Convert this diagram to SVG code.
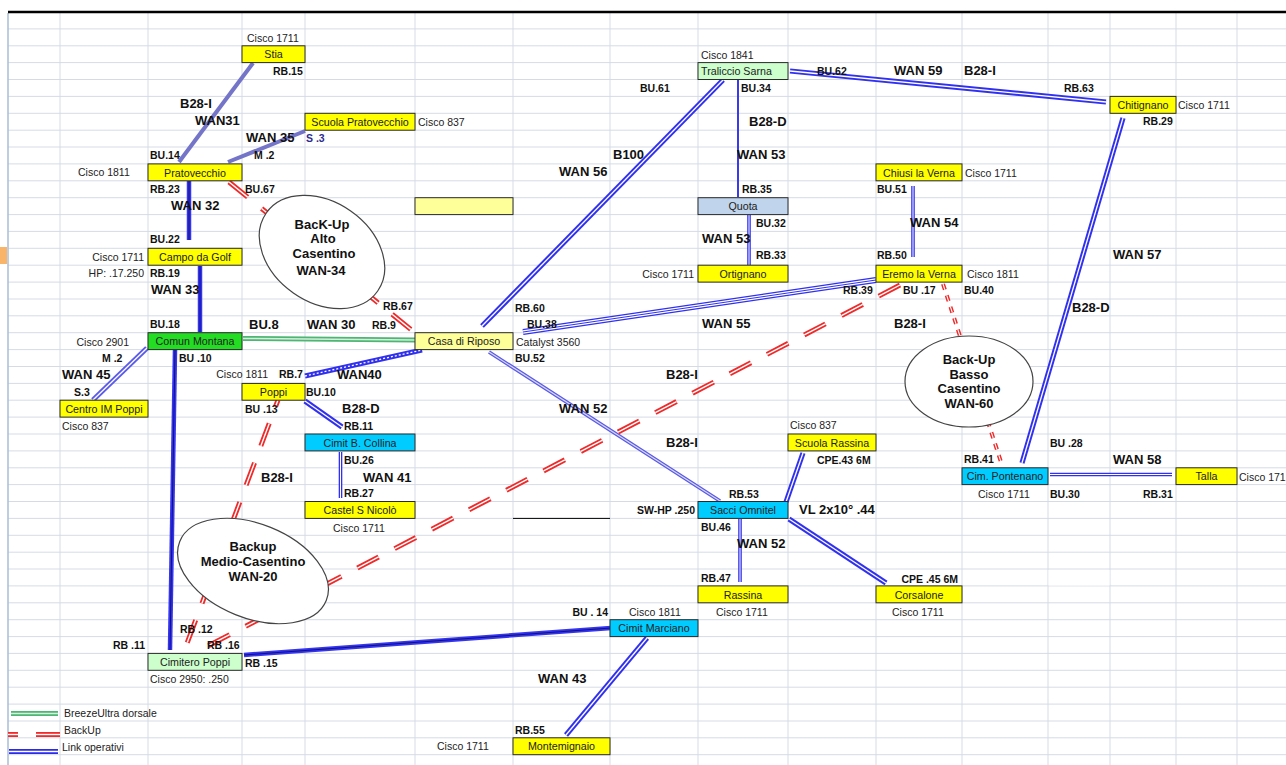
<svg xmlns="http://www.w3.org/2000/svg" width="1286" height="765" viewBox="0 0 1286 765">
<style>
text{font-family:"Liberation Sans",Arial,sans-serif}
.t{font-size:10.7px;fill:#222;text-anchor:middle}
.d{font-size:10.5px;fill:#222}
.de{font-size:10.5px;fill:#222;text-anchor:end}
.i{font-size:10.5px;font-weight:bold;fill:#111}
.ie{font-size:10.5px;font-weight:bold;fill:#111;text-anchor:end}
.w{font-size:13px;font-weight:bold;fill:#111}
.e{font-size:13px;font-weight:bold;fill:#111;text-anchor:middle}
.bx{stroke:#2a2a2a;stroke-width:1}
.y{fill:#ffff00}.ly{fill:#ffff99}.gr{fill:#22dd22}.lg{fill:#ccffcc}.cy{fill:#00ccff}.lb{fill:#c0d4ec}
.el{fill:#fff;stroke:#444;stroke-width:1.2}
line,path{fill:none}
.b1{stroke:#3030ee;stroke-width:5.2}
.b1t{stroke:#3030ee;stroke-width:3.6}
.bc{stroke:#fff;stroke-width:1.3}
.btc{stroke:#fff;stroke-width:1}
.bs{stroke:#3535f0;stroke-width:4.5}
.bsc{stroke:#101080;stroke-width:1}
.pu{stroke:#7474c8;stroke-width:4}
.pd{stroke:#5a5ae0;stroke-width:3.6}
.pdc{stroke:#d8d8ff;stroke-width:1.1}
.gn{stroke:#4fb574;stroke-width:5}
.gnc{stroke:#d4f0dc;stroke-width:1.5}
.rd{stroke:#ee2a2a;stroke-width:5;stroke-dasharray:24 18}
.rdc{stroke:#fff;stroke-width:1.4;stroke-dasharray:24 18}
.rs{stroke:#ee2a2a;stroke-width:4;stroke-dasharray:6 6}
.rsc{stroke:#fff;stroke-width:1.1;stroke-dasharray:6 6}
</style>
<rect width="1286" height="765" fill="#fff"/>
<g id="grid">
<path stroke="#d5dbe6" stroke-width="1" d="M8 28.9H1286M8 45.8H1286M8 62.6H1286M8 79.5H1286M8 96.4H1286M8 113.3H1286M8 130.2H1286M8 147H1286M8 163.9H1286M8 180.8H1286M8 197.7H1286M8 214.6H1286M8 231.4H1286M8 248.3H1286M8 265.2H1286M8 282.1H1286M8 299H1286M8 315.8H1286M8 332.7H1286M8 349.6H1286M8 366.5H1286M8 383.4H1286M8 400.2H1286M8 417.1H1286M8 434H1286M8 450.9H1286M8 467.8H1286M8 484.6H1286M8 501.5H1286M8 518.4H1286M8 535.3H1286M8 552.2H1286M8 569H1286M8 585.9H1286M8 602.8H1286M8 619.7H1286M8 636.6H1286M8 653.4H1286M8 670.3H1286M8 687.2H1286M8 704.1H1286M8 721H1286M8 737.8H1286M8 754.7H1286M60 13V765M148 13V765M242 13V765M305 13V765M415 13V765M513 13V765M610 13V765M698 13V765M788 13V765M876 13V765M962 13V765M1048 13V765M1110 13V765M1176 13V765M1237 13V765"/>
<rect x="1048.5" y="570" width="61" height="15.5" fill="#fff"/>
<line x1="8" y1="13" x2="8" y2="765" stroke="#a9bcd6" stroke-width="1.5"/>
<rect x="0" y="247" width="7" height="17" fill="#f9b46a"/>
<line x1="8" y1="12" x2="1286" y2="12" stroke="#000" stroke-width="2.4"/>
<line x1="513" y1="518.4" x2="610" y2="518.4" stroke="#000" stroke-width="1"/>
</g>
<g id="connectors">
<line class="pu" x1="253" y1="63" x2="179" y2="162"/>
<line class="pu" x1="305" y1="131" x2="228" y2="162"/>
<line class="bs" x1="189" y1="181" x2="189" y2="240"/><line class="bsc" x1="189" y1="181" x2="189" y2="240"/>
<line class="bs" x1="200" y1="266" x2="200" y2="332"/><line class="bsc" x1="200" y1="266" x2="200" y2="332"/>
<line class="bs" x1="175" y1="350" x2="170" y2="650"/><line class="bsc" x1="175" y1="350" x2="170" y2="650"/>
<line class="b1" x1="147" y1="348" x2="93" y2="400" style="stroke:#5b5bea"/><line class="bc" x1="147" y1="348" x2="93" y2="400"/>
<line class="gn" x1="243" y1="338.5" x2="415" y2="340"/><line class="gnc" x1="243" y1="338.5" x2="415" y2="340"/>
<line class="b1" x1="305" y1="376" x2="422" y2="350"/><line class="bc" x1="305" y1="376" x2="422" y2="350" style="stroke-dasharray:2 2"/>
<line class="b1" x1="305" y1="401" x2="342" y2="427"/><line class="bc" x1="305" y1="401" x2="342" y2="427"/>
<line class="b1t" x1="340.5" y1="452" x2="340.5" y2="498"/><line class="btc" x1="340.5" y1="452" x2="340.5" y2="498"/>
<line class="b1" x1="482" y1="326" x2="723" y2="80"/><line class="bc" x1="482" y1="326" x2="723" y2="80"/>
<line x1="738" y1="80" x2="738" y2="197" stroke="#3a3ae8" stroke-width="2"/>
<line class="b1t" x1="749" y1="215" x2="749" y2="265"/><line class="btc" x1="749" y1="215" x2="749" y2="265"/>
<line class="b1" x1="790" y1="71" x2="1106" y2="102"/><line class="bc" x1="790" y1="71" x2="1106" y2="102"/>
<line class="b1" x1="1123" y1="118" x2="1022" y2="463"/><line class="bc" x1="1123" y1="118" x2="1022" y2="463"/>
<line class="b1t" x1="913" y1="186" x2="913" y2="257"/><line class="btc" x1="913" y1="186" x2="913" y2="257"/>
<line x1="523" y1="332" x2="876" y2="280" stroke="#3030ee" stroke-width="6"/><line x1="523" y1="332" x2="876" y2="280" stroke="#fff" stroke-width="3.4"/><line x1="523" y1="332" x2="876" y2="280" stroke="#3030ee" stroke-width="1"/>
<line class="pd" x1="489" y1="352" x2="720" y2="501"/><line class="pdc" x1="489" y1="352" x2="720" y2="501"/>
<line class="b1" x1="786" y1="502" x2="803" y2="453"/><line class="bc" x1="786" y1="502" x2="803" y2="453"/>
<line class="b1t" x1="740" y1="519" x2="740" y2="582"/><line class="btc" x1="740" y1="519" x2="740" y2="582"/>
<line class="b1" x1="789" y1="519" x2="886" y2="583"/><line class="bc" x1="789" y1="519" x2="886" y2="583"/>
<line class="bs" x1="244" y1="655" x2="611" y2="628"/><line class="bsc" x1="244" y1="655" x2="611" y2="628"/>
<line class="b1" x1="647" y1="638" x2="566" y2="735"/><line class="bc" x1="647" y1="638" x2="566" y2="735"/>
<line class="b1t" x1="1050" y1="474.5" x2="1172" y2="474.5"/><line class="btc" x1="1050" y1="474.5" x2="1172" y2="474.5"/>
<line class="rd" x1="229" y1="182" x2="414" y2="332"/><line class="rdc" x1="229" y1="182" x2="414" y2="332"/>
<line class="rd" x1="278" y1="400" x2="186" y2="646" stroke-dashoffset="17"/><line class="rdc" x1="278" y1="400" x2="186" y2="646" stroke-dashoffset="17"/>
<line class="rd" x1="900" y1="285" x2="206" y2="647"/><line class="rdc" x1="900" y1="285" x2="206" y2="647"/>
<line class="rs" x1="943" y1="284" x2="1001" y2="462"/><line class="rsc" x1="943" y1="284" x2="1001" y2="462"/>
<text class="w" x="180" y="108">B28-I</text>
<text class="w" x="195" y="125">WAN31</text>
<text class="w" x="246" y="142">WAN 35</text>
<text class="w" x="171" y="210">WAN 32</text>
<text class="w" x="151" y="294">WAN 33</text>
<text class="w" x="62" y="379">WAN 45</text>
<text class="w" x="249" y="329">BU.8</text>
<text class="w" x="307" y="329">WAN 30</text>
<text class="w" x="337" y="379">WAN40</text>
<text class="w" x="342" y="413">B28-D</text>
<text class="w" x="261" y="482">B28-I</text>
<text class="w" x="363" y="482">WAN 41</text>
<text class="w" x="613" y="159">B100</text>
<text class="w" x="559" y="176">WAN 56</text>
<text class="w" x="749" y="126">B28-D</text>
<text class="w" x="737" y="159">WAN 53</text>
<text class="w" x="702" y="243">WAN 53</text>
<text class="w" x="894" y="75">WAN 59</text>
<text class="w" x="964" y="75">B28-I</text>
<text class="w" x="910" y="227">WAN 54</text>
<text class="w" x="1113" y="259">WAN 57</text>
<text class="w" x="1072" y="312">B28-D</text>
<text class="w" x="894" y="328">B28-I</text>
<text class="w" x="702" y="328">WAN 55</text>
<text class="w" x="666" y="379">B28-I</text>
<text class="w" x="559" y="413">WAN 52</text>
<text class="w" x="666" y="447">B28-I</text>
<text class="w" x="1113" y="464">WAN 58</text>
<text class="w" x="799" y="514">VL 2x10° .44</text>
<text class="w" x="737" y="548">WAN 52</text>
<text class="w" x="538" y="683">WAN 43</text>
</g>
<g id="backup-alto">
<ellipse class="el" cx="322" cy="252" rx="68" ry="50" transform="rotate(35 322 252)"/>
<text class="e" x="322" y="229">BacK-Up</text>
<text class="e" x="323" y="243">Alto</text>
<text class="e" x="324" y="257.5">Casentino</text>
<text class="e" x="321" y="275">WAN-34</text>
</g>
<g id="backup-medio">
<ellipse class="el" cx="253" cy="571" rx="79" ry="47" transform="rotate(22 253 571)"/>
<text class="e" x="253" y="551">Backup</text>
<text class="e" x="253" y="566">Medio-Casentino</text>
<text class="e" x="253" y="581">WAN-20</text>
</g>
<g id="backup-basso">
<ellipse class="el" cx="969" cy="381.5" rx="64" ry="45.5"/>
<text class="e" x="969" y="364">Back-Up</text>
<text class="e" x="969" y="379">Basso</text>
<text class="e" x="969" y="393">Casentino</text>
<text class="e" x="969" y="408">WAN-60</text>
</g>
<g id="node-stia">
<rect class="bx y" x="242" y="45.8" width="63" height="16.8"/>
<text class="t" x="273.5" y="58.4">Stia</text>
<text class="d" x="247" y="42">Cisco 1711</text>
<text class="i" x="273" y="75">RB.15</text>
</g>
<g id="node-scuola-pratovecchio">
<rect class="bx y" x="305" y="113.3" width="110" height="16.9"/>
<text class="t" x="360" y="125.9">Scuola Pratovecchio</text>
<text class="d" x="418" y="125.5">Cisco 837</text>
<text class="i" x="306" y="142" style="fill:#2b2b8f">S .3</text>
</g>
<g id="node-pratovecchio">
<rect class="bx y" x="148" y="163.9" width="94" height="16.9"/>
<text class="t" x="195" y="176.5">Pratovecchio</text>
<text class="d" x="78" y="176">Cisco 1811</text>
<text class="i" x="150" y="159">BU.14</text>
<text class="i" x="254" y="159">M .2</text>
<text class="i" x="150" y="193">RB.23</text>
<text class="i" x="245" y="193">BU.67</text>
</g>
<g id="node-campo-da-golf">
<rect class="bx y" x="148" y="248.3" width="94" height="16.9"/>
<text class="t" x="195" y="260.9">Campo da Golf</text>
<text class="de" x="144" y="261">Cisco 1711</text>
<text class="de" x="144" y="277">HP: .17.250</text>
<text class="i" x="150" y="243">BU.22</text>
<text class="i" x="150" y="277">RB.19</text>
</g>
<g id="node-comun-montana">
<rect class="bx gr" x="148" y="332.7" width="94" height="16.9"/>
<text class="t" x="195" y="345.3">Comun Montana</text>
<text class="de" x="129" y="346">Cisco 2901</text>
<text class="i" x="150" y="328">BU.18</text>
<text class="i" x="102" y="362">M .2</text>
<text class="i" x="179" y="362">BU .10</text>
</g>
<g id="node-centro-im-poppi">
<rect class="bx y" x="60" y="400.2" width="88" height="16.9"/>
<text class="t" x="104" y="412.8">Centro IM Poppi</text>
<text class="d" x="62" y="430">Cisco 837</text>
<text class="i" x="74" y="396">S.3</text>
</g>
<g id="node-poppi">
<rect class="bx y" x="242" y="383.4" width="63" height="16.8"/>
<text class="t" x="273.5" y="396">Poppi</text>
<text class="de" x="268" y="378">Cisco 1811</text>
<text class="i" x="279" y="378">RB.7</text>
<text class="i" x="306" y="396">BU.10</text>
<text class="i" x="245" y="413">BU .13</text>
</g>
<g id="node-cimit-b-collina">
<rect class="bx cy" x="305" y="434" width="110" height="16.9"/>
<text class="t" x="360" y="446.6">Cimit B. Collina</text>
<text class="i" x="344" y="430">RB.11</text>
<text class="i" x="344" y="464">BU.26</text>
<text class="i" x="344" y="497">RB.27</text>
</g>
<g id="node-castel-s-nicolo">
<rect class="bx y" x="305" y="501.5" width="110" height="16.9"/>
<text class="t" x="360" y="514.1">Castel S Nicolò</text>
<text class="d" x="333" y="532">Cisco 1711</text>
</g>
<g id="node-casa-di-riposo">
<rect class="bx ly" x="415" y="332.7" width="98" height="16.9"/>
<text class="t" x="464" y="345.3">Casa di Riposo</text>
<text class="d" x="516" y="346">Catalyst 3560</text>
<text class="i" x="383" y="310">RB.67</text>
<text class="i" x="372" y="329">RB.9</text>
<text class="i" x="515" y="312">RB.60</text>
<text class="i" x="527" y="328">BU.38</text>
<text class="i" x="515" y="362">BU.52</text>
</g>
<g id="node-empty">
<rect class="bx ly" x="415" y="197.7" width="98" height="16.9"/>
</g>
<g id="node-traliccio-sarna">
<rect class="bx lg" x="698" y="62.6" width="90" height="16.9"/>
<text class="t" x="701" y="75.2" style="text-anchor:start">Traliccio Sarna</text>
<text class="d" x="701" y="59">Cisco 1841</text>
<text class="i" x="640" y="92">BU.61</text>
<text class="i" x="741" y="92">BU.34</text>
<text class="i" x="817" y="75">BU.62</text>
</g>
<g id="node-quota">
<rect class="bx lb" x="698" y="197.7" width="90" height="16.9"/>
<text class="t" x="743" y="210.3">Quota</text>
<text class="i" x="742" y="193">RB.35</text>
<text class="i" x="756" y="227">BU.32</text>
</g>
<g id="node-ortignano">
<rect class="bx y" x="698" y="265.2" width="90" height="16.9"/>
<text class="t" x="743" y="277.8">Ortignano</text>
<text class="de" x="694" y="278">Cisco 1711</text>
<text class="i" x="756" y="259">RB.33</text>
</g>
<g id="node-chiusi-la-verna">
<rect class="bx y" x="876" y="163.9" width="86" height="16.9"/>
<text class="t" x="919" y="176.5">Chiusi la Verna</text>
<text class="d" x="965" y="176.5">Cisco 1711</text>
<text class="i" x="877" y="193">BU.51</text>
</g>
<g id="node-chitignano">
<rect class="bx y" x="1110" y="96.4" width="66" height="16.9"/>
<text class="t" x="1143" y="109">Chitignano</text>
<text class="d" x="1178" y="109">Cisco 1711</text>
<text class="i" x="1064" y="92">RB.63</text>
<text class="i" x="1143" y="125">RB.29</text>
</g>
<g id="node-eremo-la-verna">
<rect class="bx y" x="876" y="265.2" width="86" height="16.9"/>
<text class="t" x="919" y="277.8">Eremo la Verna</text>
<text class="d" x="967" y="278">Cisco 1811</text>
<text class="i" x="877" y="259">RB.50</text>
<text class="i" x="843" y="294">RB.39</text>
<text class="i" x="903" y="294">BU .17</text>
<text class="i" x="964" y="294">BU.40</text>
</g>
<g id="node-cim-pontenano">
<rect class="bx cy" x="962" y="467.8" width="86" height="16.8"/>
<text class="t" x="1005" y="480.4">Cim. Pontenano</text>
<text class="d" x="978" y="498">Cisco 1711</text>
<text class="i" x="964" y="463">RB.41</text>
<text class="i" x="1050" y="447">BU .28</text>
<text class="i" x="1050" y="498">BU.30</text>
</g>
<g id="node-talla">
<rect class="bx y" x="1176" y="467.8" width="61" height="16.8"/>
<text class="t" x="1206.5" y="480.4">Talla</text>
<text class="d" x="1239" y="481">Cisco 171</text>
<text class="i" x="1143" y="498">RB.31</text>
</g>
<g id="node-scuola-rassina">
<rect class="bx y" x="788" y="434" width="88" height="16.9"/>
<text class="t" x="832" y="446.6">Scuola Rassina</text>
<text class="d" x="790" y="429">Cisco 837</text>
<text class="i" x="817" y="464">CPE.43 6M</text>
</g>
<g id="node-sacci-omnitel">
<rect class="bx cy" x="698" y="501.5" width="90" height="16.9"/>
<text class="t" x="743" y="514.1">Sacci Omnitel</text>
<text class="ie" x="695" y="514">SW-HP .250</text>
<text class="i" x="729" y="498">RB.53</text>
<text class="i" x="701" y="531">BU.46</text>
</g>
<g id="node-rassina">
<rect class="bx y" x="698" y="585.9" width="90" height="16.9"/>
<text class="t" x="743" y="598.5">Rassina</text>
<text class="d" x="716" y="616">Cisco 1711</text>
<text class="i" x="701" y="582">RB.47</text>
</g>
<g id="node-corsalone">
<rect class="bx y" x="876" y="585.9" width="86" height="16.9"/>
<text class="t" x="919" y="598.5">Corsalone</text>
<text class="d" x="892" y="616">Cisco 1711</text>
<text class="ie" x="958" y="583">CPE .45  6M</text>
</g>
<g id="node-cimit-marciano">
<rect class="bx cy" x="610" y="619.7" width="88" height="16.9"/>
<text class="t" x="654" y="632.3">Cimit Marciano</text>
<text class="d" x="629" y="616">Cisco 1811</text>
<text class="ie" x="608" y="616">BU . 14</text>
</g>
<g id="node-montemignaio">
<rect class="bx y" x="513" y="737.8" width="97" height="16.9"/>
<text class="t" x="561.5" y="750.4">Montemignaio</text>
<text class="d" x="437" y="750">Cisco 1711</text>
<text class="i" x="515" y="734">RB.55</text>
</g>
<g id="node-cimitero-poppi">
<rect class="bx lg" x="148" y="653.4" width="94" height="16.9"/>
<text class="t" x="195" y="666">Cimitero Poppi</text>
<text class="d" x="150" y="683">Cisco 2950:  .250</text>
<text class="i" x="113" y="649">RB .11</text>
<text class="i" x="180" y="633">RB .12</text>
<text class="i" x="207" y="649">RB .16</text>
<text class="i" x="245" y="667">RB .15</text>
</g>
<g id="legend">
<line class="gn" x1="11" y1="713.5" x2="58" y2="713.5"/><line class="gnc" x1="11" y1="713.5" x2="58" y2="713.5"/>
<text class="d" x="64" y="717">BreezeUltra dorsale</text>
<line x1="8" y1="734.5" x2="18" y2="734.5" stroke="#ee2a2a" stroke-width="5"/><line x1="8" y1="734.5" x2="18" y2="734.5" stroke="#fff" stroke-width="1.4"/>
<line x1="36" y1="734.5" x2="60" y2="734.5" stroke="#ee2a2a" stroke-width="5"/><line x1="36" y1="734.5" x2="60" y2="734.5" stroke="#fff" stroke-width="1.4"/>
<text class="d" x="64" y="734">BackUp</text>
<line x1="9" y1="751.5" x2="58" y2="751.5" stroke="#2a2ae8" stroke-width="5"/><line x1="9" y1="751.5" x2="58" y2="751.5" stroke="#fff" stroke-width="1.4"/>
<text class="d" x="62" y="751">Link operativi</text>
</g>
</svg>
